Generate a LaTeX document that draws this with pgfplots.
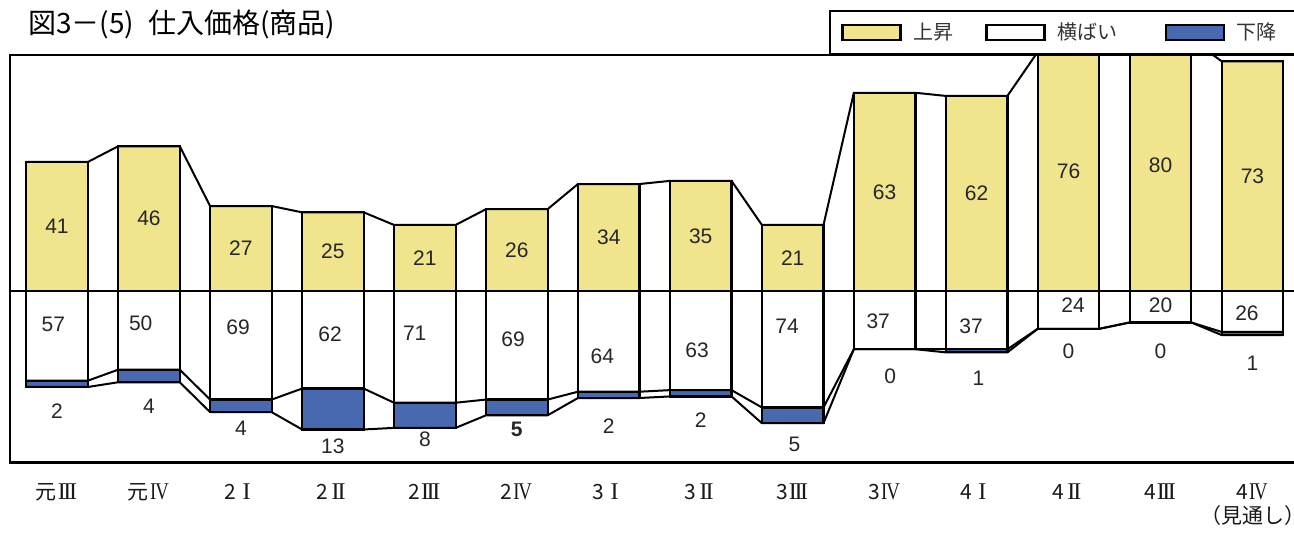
\documentclass[border=0pt]{standalone}
\usepackage{pgfplots}
\pgfplotsset{compat=1.18}
\usepackage{pgfplotstable}
\usepackage{fontspec}
\setmainfont{Liberation Sans}
\newfontfamily\jp{Noto Sans CJK JP}
\newfontfamily\rn{Liberation Serif}
\newcommand\RN[1]{\makebox[1em][c]{\rn\fontsize{12}{12}\selectfont #1}}
\newcommand\RI{\RN{I}}
\newcommand\RII{\RN{I\kern-.08em I}}
\newcommand\RIII{\RN{I\kern-.1em I\kern-.1em I}}
\newcommand\RIV{\RN{\scalebox{0.78}[1]{I\kern-.06em V}}}
\definecolor{upc}{RGB}{240,228,140}
\definecolor{dnc}{RGB}{72,104,176}
\pgfplotsset{boxleg/.style={legend image code/.code={\draw[fill=#1, draw=black, line width=1.3pt] (0pt,-3.75pt) rectangle (29pt,3.75pt);}}}

\pgfplotstableread{
x up flat down
0 41 57 2
1 46 50 4
2 27 69 4
3 25 62 13
4 21 71 8
5 26 69 5
6 34 64 2
7 35 63 2
8 21 74 5
9 63 37 0
10 62 37 1
11 76 24 0
12 80 20 0
13 73 26 1
}\data

\begin{document}
\begin{tikzpicture}
\useasboundingbox (0pt,0pt) rectangle (647pt,266pt);
\node[anchor=west, font=\jp\fontsize{14}{16}\selectfont, inner sep=0pt] at (13.8pt,253.6pt) {図3－(5)\hspace{0.5em}仕入価格(商品)};
\begin{axis}[
  at={(5pt,34.75pt)}, anchor=south west,
  scale only axis, width=644pt, height=203.75pt,
  xmin=-0.511, xmax=13.495, ymin=-54.5, ymax=75,
  axis line style={line width=1.2pt},
  axis on top=true,
  ytick=\empty,
  xtick={0,...,13},
  xticklabels={元\RIII,元\RIV,2\RI,2\RII,2\RIII,2\RIV,3\RI,3\RII,3\RIII,3\RIV,4\RI,4\RII,4\RIII,{4\RIV\\（見通し）}},
  xticklabel style={font=\jp\fontsize{10.5}{12}\selectfont, align=center, yshift=-7pt, text=black!90},
  major tick length=0pt,
  legend columns=3,
  legend cell align=left,
  legend style={at={(0.636,1)}, anchor=south west, draw=black, line width=1.1pt, fill=white,
    inner xsep=5.5pt, inner ysep=5.8pt,
    nodes={inner sep=0pt, text=black!80},
    font=\jp\fontsize{10}{12}\selectfont,
    /tikz/every odd column/.append style={column sep=5.8pt},
    /tikz/every even column/.append style={column sep=0pt}},
]
\addlegendimage{boxleg=upc}
\addlegendentry{\makebox[36pt][l]{上昇}}
\addlegendimage{boxleg=white}
\addlegendentry{\makebox[53.5pt][l]{横ばい}}
\addlegendimage{boxleg=dnc}
\addlegendentry{\makebox[45pt][l]{下降}}

\addplot[ybar, bar width=0.67, bar shift=0pt, fill=dnc, draw=black, line width=1.1pt, forget plot]
  table[x=x, y expr=-\thisrow{flat}/2-\thisrow{down}] {\data};
\addplot[ybar, bar width=0.67, bar shift=0pt, fill=white, draw=black, line width=1.1pt, forget plot]
  table[x=x, y expr=-\thisrow{flat}/2] {\data};
\addplot[ybar, bar width=0.67, bar shift=0pt, fill=upc, draw=black, line width=1.1pt, forget plot]
  table[x=x, y=up] {\data};

% connectors
\addplot[black, line width=1pt, forget plot] coordinates {(-0.335,41)(0.335,41)(0.665,46)(1.335,46)(1.665,27)(2.335,27)(2.665,25)(3.335,25)(3.665,21)(4.335,21)(4.665,26)(5.335,26)(5.665,34)(6.335,34)(6.665,35)(7.335,35)(7.665,21)(8.335,21)(8.665,63)(9.335,63)(9.665,62)(10.335,62)(10.665,76)(11.335,76)(11.665,80)(12.335,80)(12.665,73)(13.335,73)};
\addplot[black, line width=1pt, forget plot] coordinates {(-0.335,-28.5)(0.335,-28.5)(0.665,-25)(1.335,-25)(1.665,-34.5)(2.335,-34.5)(2.665,-31)(3.335,-31)(3.665,-35.5)(4.335,-35.5)(4.665,-34.5)(5.335,-34.5)(5.665,-32)(6.335,-32)(6.665,-31.5)(7.335,-31.5)(7.665,-37)(8.335,-37)(8.665,-18.5)(9.335,-18.5)(9.665,-18.5)(10.335,-18.5)(10.665,-12)(11.335,-12)(11.665,-10)(12.335,-10)(12.665,-13)(13.335,-13)};
\addplot[black, line width=1pt, forget plot] coordinates {(-0.335,-30.5)(0.335,-30.5)(0.665,-29)(1.335,-29)(1.665,-38.5)(2.335,-38.5)(2.665,-44)(3.335,-44)(3.665,-43.5)(4.335,-43.5)(4.665,-39.5)(5.335,-39.5)(5.665,-34)(6.335,-34)(6.665,-33.5)(7.335,-33.5)(7.665,-42)(8.335,-42)(8.665,-18.5)(9.335,-18.5)(9.665,-19.5)(10.335,-19.5)(10.665,-12)(11.335,-12)(11.665,-10)(12.335,-10)(12.665,-14)(13.335,-14)};
% baseline
\addplot[black, line width=1.2pt, forget plot] coordinates {(-0.6,0)(13.6,0)};

% labels
\addplot[draw=none, mark=none, forget plot, nodes near coords, point meta=explicit symbolic,
  nodes near coords style={anchor=center, inner sep=0pt, text=black!85, font=\fontsize{10.5}{12}\selectfont}]
  table[x=x, y expr=\thisrow{up}/2, meta=up] {\data};
\addplot[draw=none, mark=none, forget plot, nodes near coords, point meta=explicit symbolic,
  nodes near coords style={anchor=center, inner sep=0pt, text=black!85, font=\fontsize{10.5}{12}\selectfont}]
  coordinates {(-0.04,-10.5)[57] (0.91,-10.2)[50] (1.97,-11.4)[69] (2.97,-13.7)[62] (3.89,-13.3)[71] (4.96,-15.3)[69] (5.93,-20.7)[64] (6.96,-18.7)[63] (7.94,-11.1)[74] (8.93,-9.5)[37] (9.94,-11.1)[37] (11.05,-4.4)[24] (12,-4.4)[20] (12.94,-7.0)[26]};
\addplot[draw=none, mark=none, forget plot, nodes near coords, point meta=explicit symbolic,
  nodes near coords style={anchor=center, inner sep=0pt, text=black!85, font=\fontsize{10.5}{12}\selectfont}]
  coordinates {(0,-38.1)[2] (1,-36.5)[4] (2,-43.5)[4] (3,-49.3)[13] (4,-47.0)[8] (5,-43.9)[\textbf{5}] (6,-42.9)[2] (7,-41.0)[2] (8.02,-48.6)[5] (9.06,-27.0)[0] (10.02,-27.6)[1] (11,-19.1)[0] (12,-19.1)[0] (13,-22.9)[1]};
\end{axis}
\end{tikzpicture}
\end{document}
